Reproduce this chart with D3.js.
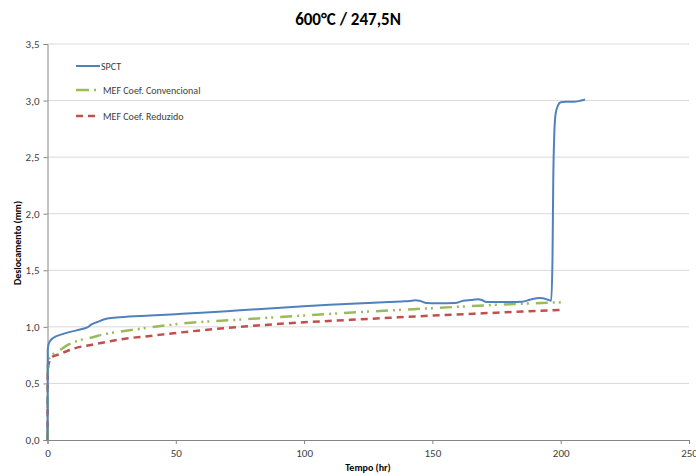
<!DOCTYPE html>
<html>
<head>
<meta charset="utf-8">
<script src="https://cdn.jsdelivr.net/npm/d3@7"></script>
<style>
  body { margin: 0; background: #fff; }
  text { font-family: Carlito, Calibri, Lato, "Open Sans", sans-serif; fill: #404040; }
</style>
</head>
<body>
<div id="chart"></div>
<script>
// values
const spctT = [0, 0.1, 0.5, 1.9, 6.4, 14.2, 15.5, 17, 19.4, 23.3, 28.3, 40, 50, 60, 75, 98.4, 110, 125, 138, 141, 143.2, 145, 147.8, 152, 158.8, 162, 165, 167.8, 169.5, 171, 180, 185, 188, 192, 195, 196.3, 196.8, 197.1, 197.5, 198, 199, 200, 202, 205, 207, 209.5];
const spctV = [0, 0.80, 0.853, 0.897, 0.94, 0.985, 0.995, 1.02, 1.043, 1.073, 1.085, 1.10, 1.112, 1.124, 1.146, 1.18, 1.195, 1.21, 1.225, 1.228, 1.235, 1.23, 1.21, 1.208, 1.21, 1.23, 1.237, 1.243, 1.235, 1.22, 1.22, 1.222, 1.24, 1.255, 1.24, 1.23, 1.6, 2.3, 2.7, 2.88, 2.96, 2.985, 2.99, 2.99, 2.995, 3.01];

const convT = [0, 0.2, 1, 2.5, 4.5, 7.7, 12.3, 18, 22, 28, 40, 50, 75, 100, 125, 150, 175, 200.5];
const convV = [0, 0.70, 0.73, 0.764, 0.79, 0.838, 0.88, 0.91, 0.935, 0.956, 0.995, 1.024, 1.064, 1.10, 1.135, 1.165, 1.195, 1.217];

const reduT = [0, 0.1, 0.5, 1.9, 4.5, 10.5, 18, 23, 28.5, 40, 51.6, 75, 100, 125, 150, 175, 199.7];
const reduV = [0, 0.60, 0.676, 0.735, 0.757, 0.81, 0.845, 0.867, 0.89, 0.92, 0.95, 1.0, 1.04, 1.07, 1.10, 1.125, 1.15];

const seriesNames = ['SPCT', 'MEF Coef. Convencional', 'MEF Coef. Reduzido'];
const xTicks = [0, 50, 100, 150, 200, 250];
const yTicks = [0, 0.5, 1, 1.5, 2, 2.5, 3, 3.5];

const W = 696, H = 476;
const margin = {top: 44, right: 6, bottom: 36, left: 47.5};
const width = W - margin.left - margin.right,
  height = H - margin.top - margin.bottom;

const svg = d3.select('#chart').append('svg')
  .attr('width', W)
  .attr('height', H);

const g = svg.append('g')
  .attr('transform', 'translate(' + margin.left + ',' + margin.top + ')');

const x = d3.scaleLinear().domain([0, 250]).range([0, 641.5]);
const y = d3.scaleLinear().domain([0, 3.5]).range([height, 0]);
const fmt = d => d3.format('.1f')(d).replace('.', ',');

// gridlines
g.selectAll('.grid')
  .data(yTicks.filter(d => d > 0))
  .enter().append('line')
  .attr('x1', 0)
  .attr('x2', x(250))
  .attr('y1', d => y(d))
  .attr('y2', d => y(d))
  .style('stroke', '#d9d9d9')
  .style('stroke-width', 1);

const xAxis = g.append('g')
  .attr('transform', 'translate(0,' + height + ')')
  .call(d3.axisBottom(x).tickValues(xTicks).tickSize(4).tickPadding(5).tickFormat(d3.format('d')));

const yAxis = g.append('g')
  .call(d3.axisLeft(y).tickValues(yTicks).tickSize(4).tickPadding(4).tickFormat(fmt));

[xAxis, yAxis].forEach(a => {
  a.select('.domain').style('stroke', '#868686');
  a.selectAll('.tick line').style('stroke', '#868686');
  a.selectAll('.tick text').style('font-size', '11px').style('fill', '#404040')
    .style('font-family', 'Carlito, Calibri, Lato, "Open Sans", sans-serif');
});

const line = d3.line()
  .x(d => x(d[0]))
  .y(d => y(d[1]))
  .curve(d3.curveMonotoneX);

const series = [
  {t: reduT, v: reduV, color: '#c0504d', dash: '7,5', w: 2.5},
  {t: convT, v: convV, color: '#9bbb59', dash: '12,5,2,4,2,7', w: 2.5},
  {t: spctT, v: spctV, color: '#4f81bd', dash: null, w: 2}
];

series.forEach(s => {
  g.append('path')
    .datum(s.t.map((t, i) => [t, s.v[i]]))
    .attr('d', line)
    .style('fill', 'none')
    .style('stroke', s.color)
    .style('stroke-width', s.w)
    .style('stroke-dasharray', s.dash);
});

// legend
const legend = [
  {name: seriesNames[0], color: '#4f81bd', dash: null, w: 2, y: 66, x1: 76, x2: 100},
  {name: seriesNames[1], color: '#9bbb59', dash: '13,5,2,10', w: 2.5, y: 90, x1: 76, x2: 99},
  {name: seriesNames[2], color: '#c0504d', dash: '7,5', w: 2.5, y: 116, x1: 76, x2: 96}
];
legend.forEach(l => {
  svg.append('line')
    .attr('x1', l.x1).attr('x2', l.x2)
    .attr('y1', l.y).attr('y2', l.y)
    .style('stroke', l.color)
    .style('stroke-width', l.w)
    .style('stroke-dasharray', l.dash);
  svg.append('text')
    .attr('x', l.x1 === 76 && l.dash === null ? 101 : 103)
    .attr('y', l.y)
    .attr('dy', '.35em')
    .style('font-size', '10px')
    .text(l.name);
});

svg.append('text')
  .attr('x', 348)
  .attr('y', 25)
  .attr('text-anchor', 'middle')
  .style('font-size', '17px')
  .style('font-weight', 'bold')
  .style('fill', '#000')
  .text('600°C / 247,5N');

svg.append('text')
  .attr('x', 368)
  .attr('y', 471)
  .attr('text-anchor', 'middle')
  .style('font-size', '10px')
  .style('font-weight', 'bold')
  .style('fill', '#000')
  .text('Tempo (hr)');

svg.append('text')
  .attr('transform', 'translate(21,243) rotate(-90)')
  .attr('text-anchor', 'middle')
  .style('font-size', '10px')
  .style('font-weight', 'bold')
  .style('fill', '#000')
  .text('Deslocamento (mm)');
</script>
</body>
</html>
